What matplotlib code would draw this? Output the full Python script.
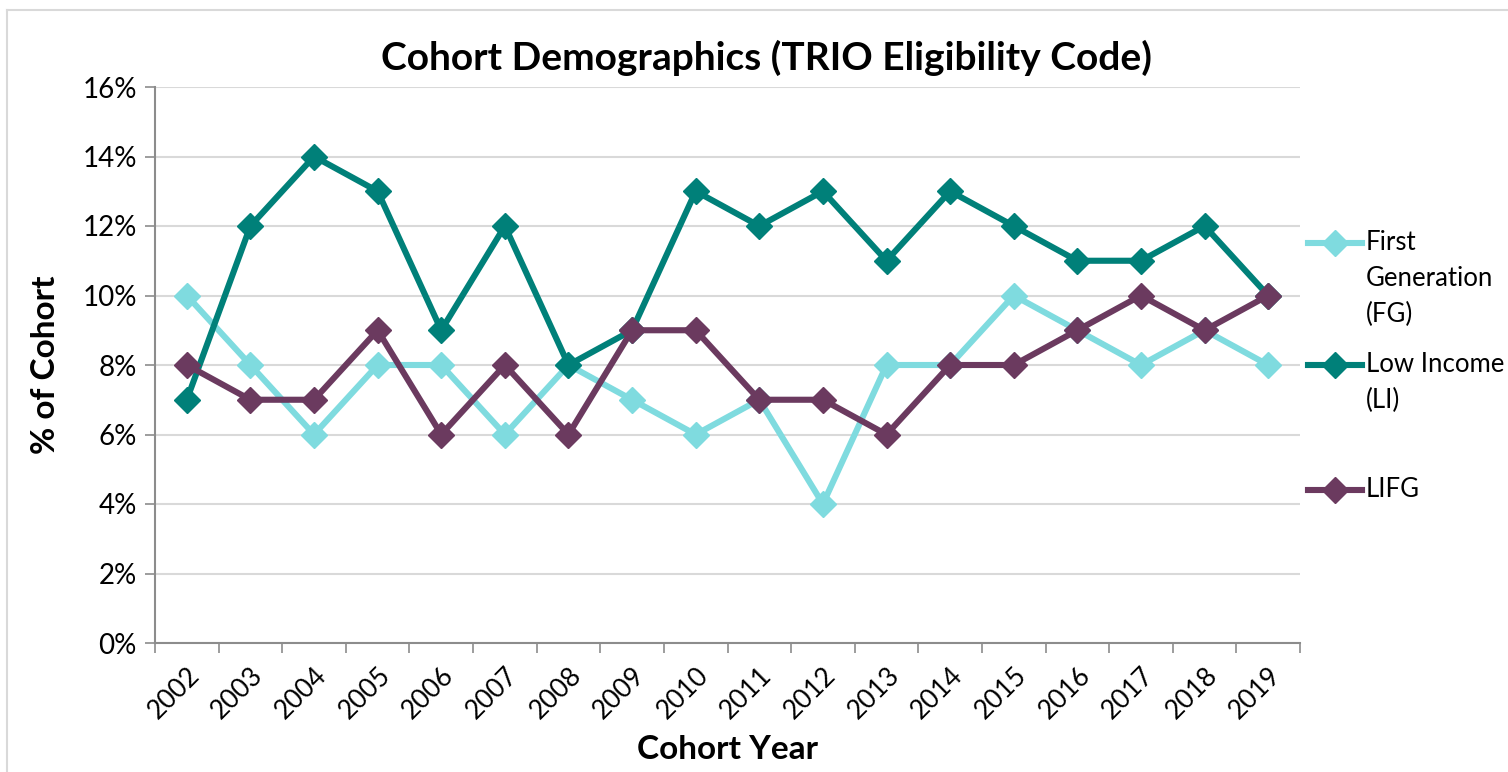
import numpy as np
import matplotlib.pyplot as plt
from matplotlib.lines import Line2D
from matplotlib.ticker import FixedLocator, PercentFormatter

plt.rcParams['font.family'] = ['Lato', 'DejaVu Sans']

years = [2002, 2003, 2004, 2005, 2006, 2007, 2008, 2009, 2010,
         2011, 2012, 2013, 2014, 2015, 2016, 2017, 2018, 2019]
first_gen = [10, 8, 6, 8, 8, 6, 8, 7, 6, 7, 4, 8, 8, 10, 9, 8, 9, 8]
low_income = [7, 12, 14, 13, 9, 12, 8, 9, 13, 12, 13, 11, 13, 12, 11, 11, 12, 10]
lifg = [8, 7, 7, 9, 6, 8, 6, 9, 9, 7, 7, 6, 8, 8, 9, 10, 9, 10]

series = [
    ('First\nGeneration\n(FG)', first_gen, '#7fdbdf'),
    ('Low Income\n(LI)', low_income, '#008079'),
    ('LIFG', lifg, '#6b3a5f'),
]

W, H = 1508, 772
fig = plt.figure(figsize=(W / 100, H / 100), dpi=100)
ax = fig.add_axes([155 / W, 1 - 643 / H, (1300 - 155) / W, (643 - 87) / H])

x = np.arange(len(years))
for i, (name, vals, col) in enumerate(series):
    ax.plot(x, vals, color=col, lw=4.4, marker='D', ms=13, zorder=3 + i,
            solid_joinstyle='miter')

ax.set_xlim(-0.5, len(years) - 0.5)
ax.set_ylim(0, 16)
ax.set_yticks(np.arange(0, 17, 2))
ax.yaxis.set_major_formatter(PercentFormatter(decimals=0))
ax.set_xticks(x)
ax.set_xticklabels([str(y) for y in years], rotation=45, ha='right',
                   rotation_mode='anchor', fontsize=19)
ax.xaxis.set_minor_locator(FixedLocator(np.arange(-0.5, len(years), 1)))
ax.tick_params(axis='x', which='major', length=0, pad=14)
ax.tick_params(axis='x', which='minor', length=7, width=1.2, color='#8c8c8c')
ax.tick_params(axis='y', length=7, width=1.2, color='#8c8c8c', labelsize=20, pad=6)

ax.grid(axis='y', color='#d9d9d9', lw=1.5)
ax.set_axisbelow(True)
for s in ['top', 'right']:
    ax.spines[s].set_visible(False)
for s in ['left', 'bottom']:
    ax.spines[s].set_color('#8c8c8c')
    ax.spines[s].set_linewidth(1.5)

ax.set_xlabel('Cohort Year', fontsize=24, fontweight='bold', labelpad=8)
ax.set_ylabel('% of Cohort', fontsize=24, fontweight='bold', labelpad=16)
fig.text(767 / W, 1 - 58 / H, 'Cohort Demographics (TRIO Eligibility Code)',
         fontsize=28, fontweight='bold', ha='center', va='center')

# legend on the right, marker aligned with first text line like Excel
leg_y = [243, 365, 490]
for (name, vals, col), yy in zip(series, leg_y):
    fy = 1 - yy / H
    fig.add_artist(Line2D([1308 / W, 1362 / W], [fy, fy], color=col, lw=4.4))
    fig.add_artist(Line2D([1335 / W], [fy], color=col, marker='D', ms=13))
    fig.text(1366 / W, 1 - (yy - 13) / H, name, fontsize=18.5, ha='left', va='top',
             linespacing=1.55)

# chart frame (top and left edge visible)
fig.add_artist(Line2D([6.5 / W, 1], [1 - 9.5 / H, 1 - 9.5 / H], color='#d9d9d9', lw=1.5))
fig.add_artist(Line2D([6.5 / W, 6.5 / W], [0, 1 - 9.5 / H], color='#d9d9d9', lw=1.5))

fig.savefig('out.png', dpi=100, facecolor='white')
